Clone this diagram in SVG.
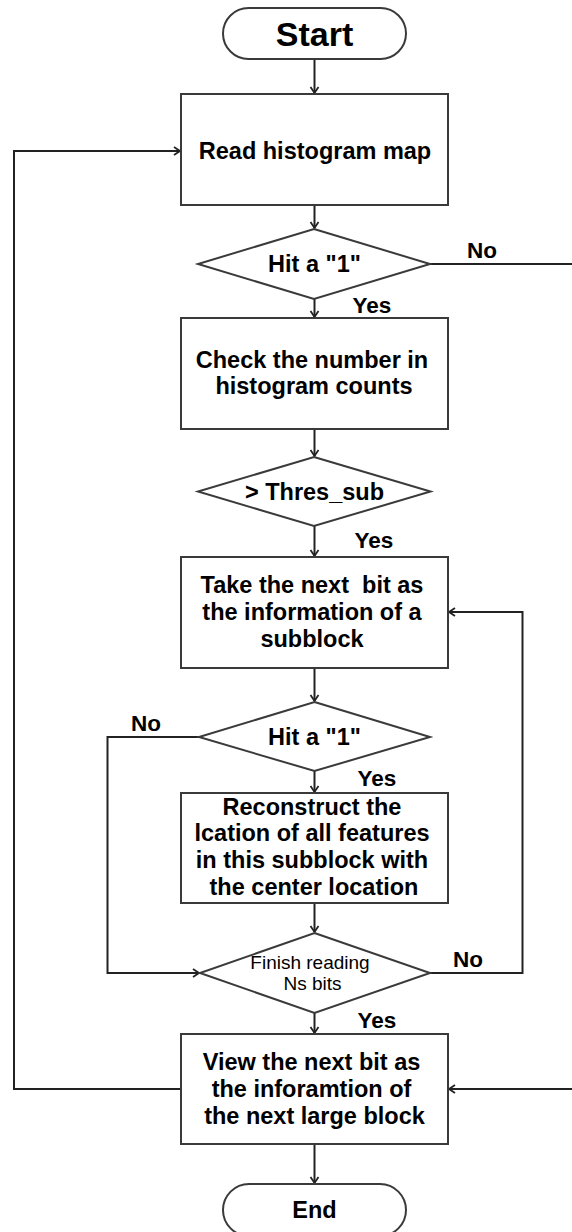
<svg xmlns="http://www.w3.org/2000/svg" width="572" height="1232" viewBox="0 0 572 1232">
<style>
.shape{fill:#fff;stroke:#3a3a3a;stroke-width:2}
.line{fill:none;stroke:#222;stroke-width:2}
.t{font-family:"Liberation Sans",Arial,sans-serif;font-weight:bold;font-size:23.5px;fill:#000;text-anchor:middle}
.lbl{font-family:"Liberation Sans",Arial,sans-serif;font-weight:bold;font-size:22.5px;fill:#000;text-anchor:middle}
.sm{font-family:"Liberation Sans",Arial,sans-serif;font-size:19px;fill:#000;text-anchor:middle}
</style>
<defs>
<marker id="arr" markerUnits="userSpaceOnUse" markerWidth="10" markerHeight="12" refX="7" refY="5" orient="auto">
<path d="M1,1 L7,5 L1,9" fill="none" stroke="#222" stroke-width="1.8"/>
</marker>
</defs>
<rect width="572" height="1232" fill="#fff"/>
<g id="connectors">
<line class="line" x1="314.5" y1="59" x2="314.5" y2="93" marker-end="url(#arr)"/>
<line class="line" x1="314.5" y1="205" x2="314.5" y2="228" marker-end="url(#arr)"/>
<line class="line" x1="314.5" y1="299" x2="314.5" y2="317" marker-end="url(#arr)"/>
<line class="line" x1="430" y1="264" x2="572" y2="264"/>
<line class="line" x1="314.5" y1="429" x2="314.5" y2="456" marker-end="url(#arr)"/>
<line class="line" x1="314.5" y1="526" x2="314.5" y2="556" marker-end="url(#arr)"/>
<line class="line" x1="314.5" y1="668" x2="314.5" y2="701" marker-end="url(#arr)"/>
<line class="line" x1="314.5" y1="771" x2="314.5" y2="792" marker-end="url(#arr)"/>
<polyline class="line" points="200,737 107.5,737 107.5,973 199,973" marker-end="url(#arr)"/>
<line class="line" x1="314.5" y1="903" x2="314.5" y2="932" marker-end="url(#arr)"/>
<polyline class="line" points="430,973 522.5,973 522.5,612 449,612" marker-end="url(#arr)"/>
<line class="line" x1="314.5" y1="1013" x2="314.5" y2="1033" marker-end="url(#arr)"/>
<polyline class="line" points="181,1089 14,1089 14,151 180,151" marker-end="url(#arr)"/>
<line class="line" x1="572" y1="1089" x2="449" y2="1089" marker-end="url(#arr)"/>
<line class="line" x1="314.5" y1="1144" x2="314.5" y2="1183" marker-end="url(#arr)"/>
</g>
<g id="labels">
<text class="lbl" x="482" y="258">No</text>
<text class="lbl" x="372" y="313">Yes</text>
<text class="lbl" x="374" y="548">Yes</text>
<text class="lbl" x="146" y="731">No</text>
<text class="lbl" x="377" y="786">Yes</text>
<text class="lbl" x="468" y="967">No</text>
<text class="lbl" x="377" y="1028">Yes</text>
</g>
<g id="start">
<rect class="shape" x="223" y="8" width="183" height="51" rx="25.5"/>
<text class="t" x="314.5" y="46" style="font-size:34px">Start</text>
</g>
<g id="read-map">
<rect class="shape" x="181" y="94" width="267" height="111"/>
<text class="t" x="315" y="159">Read histogram map</text>
</g>
<g id="hit1">
<polygon class="shape" points="314,229 430,264 314,299 198,264"/>
<text class="t" x="314.5" y="272">Hit a "1"</text>
</g>
<g id="check-number">
<rect class="shape" x="181" y="318" width="267" height="111"/>
<text class="t" x="312" y="368">Check the number in</text>
<text class="t" x="314" y="394">histogram counts</text>
</g>
<g id="thres">
<polygon class="shape" points="314,457 430.5,491.5 314,526 198,491.5"/>
<text class="t" x="314.5" y="500">&gt; Thres_sub</text>
</g>
<g id="take-next">
<rect class="shape" x="181" y="557" width="267" height="111"/>
<text class="t" x="312" y="593" xml:space="preserve">Take the next  bit as</text>
<text class="t" x="312" y="620">the information of a</text>
<text class="t" x="312" y="647">subblock</text>
</g>
<g id="hit2">
<polygon class="shape" points="314.5,702 430,737 314.5,771 199,737"/>
<text class="t" x="314.5" y="745">Hit a "1"</text>
</g>
<g id="reconstruct">
<rect class="shape" x="181" y="793" width="267" height="110"/>
<text class="t" x="312" y="815">Reconstruct the</text>
<text class="t" x="312" y="841">lcation of all features</text>
<text class="t" x="312" y="868">in this subblock with</text>
<text class="t" x="314" y="895">the center location</text>
</g>
<g id="finish">
<polygon class="shape" points="314.5,933 430,973 314.5,1013 200,973"/>
<text class="sm" x="310" y="969">Finish reading</text>
<text class="sm" x="312.5" y="990">Ns bits</text>
</g>
<g id="view-next">
<rect class="shape" x="181" y="1034" width="267" height="110"/>
<text class="t" x="311.5" y="1070">View the next bit as</text>
<text class="t" x="311.5" y="1097">the inforamtion of</text>
<text class="t" x="314.5" y="1124">the next large block</text>
</g>
<g id="end">
<rect class="shape" x="223" y="1184" width="183" height="52" rx="26"/>
<text class="t" x="314.5" y="1218">End</text>
</g>
</svg>
